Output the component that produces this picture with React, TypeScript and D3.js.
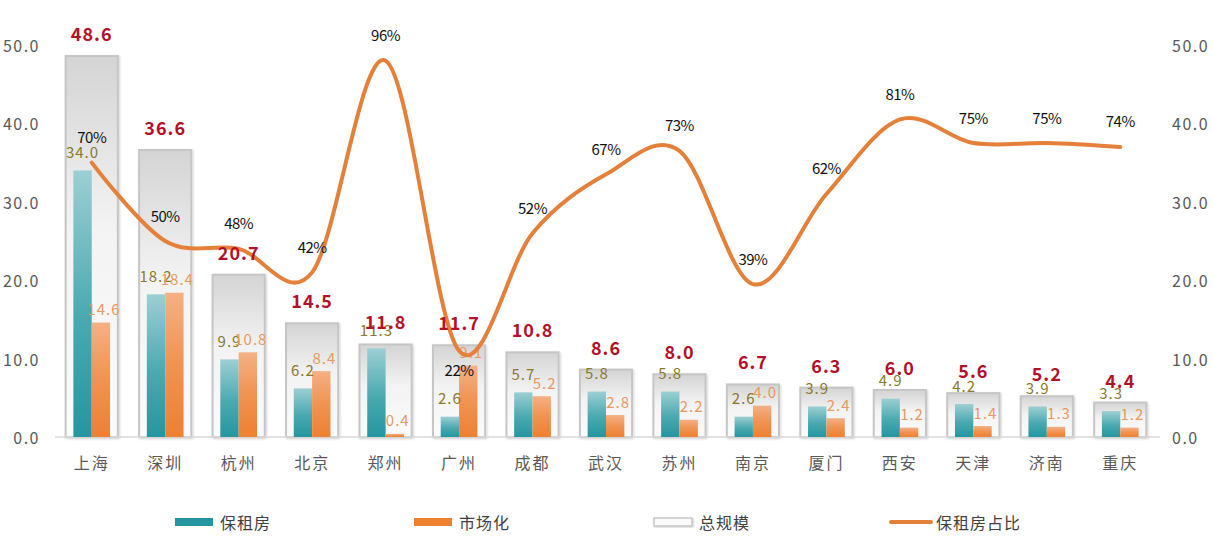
import * as d3 from 'd3';

const cities = ['上海', '深圳', '杭州', '北京', '郑州', '广州', '成都', '武汉', '苏州', '南京', '厦门', '西安', '天津', '济南', '重庆'];
const totalScale = [48.6, 36.6, 20.7, 14.5, 11.8, 11.7, 10.8, 8.6, 8.0, 6.7, 6.3, 6.0, 5.6, 5.2, 4.4];
const baozu = [34.0, 18.2, 9.9, 6.2, 11.3, 2.6, 5.7, 5.8, 5.8, 2.6, 3.9, 4.9, 4.2, 3.9, 3.3];
const market = [14.6, 18.4, 10.8, 8.4, 0.4, 9.1, 5.2, 2.8, 2.2, 4.0, 2.4, 1.2, 1.4, 1.3, 1.2];
const baozuShare = [70, 50, 48, 42, 96, 22, 52, 67, 73, 39, 62, 81, 75, 75, 74];
const yTicks = [0, 10, 20, 30, 40, 50];
const shareLabelBelow = ['广州'];

const WIDTH = 1213;
const HEIGHT = 551;
const FONT = '"Noto Sans CJK SC", "Noto Sans", sans-serif';

const TEAL = '#2596a0';
const ORANGE = '#ee8032';
const LINE = '#e5803a';

export default function App() {
  const x = d3.scaleBand<string>().domain(cities).range([55, 1157]);
  const y = d3.scaleLinear().domain([0, 50]).range([437, 45]);
  const yPct = d3.scaleLinear().domain([0, 100]).range([437, 45]);
  const bw = x.bandwidth();
  const boxW = bw * 0.71;
  const barW = bw * 0.25;
  const fmt = d3.format('.1f');
  const cx = (c: string) => (x(c) as number) + bw / 2;

  const linePath = d3
    .line<number>()
    .x((_, i) => cx(cities[i]))
    .y((d) => yPct(d))
    .curve(d3.curveCardinal.tension(0))(baozuShare);

  const legend = [
    { name: '保租房', kind: 'teal', x: 175 },
    { name: '市场化', kind: 'orange', x: 414 },
    { name: '总规模', kind: 'box', x: 654 },
    { name: '保租房占比', kind: 'line', x: 891 },
  ];

  return (
    <div style={{ position: 'absolute', left: 0, top: 0 }}>
      <svg width={WIDTH} height={HEIGHT} style={{ display: 'block', fontFamily: FONT }}>
        <defs>
          <linearGradient id="boxGrad" x1="0" y1="0" x2="0" y2="1">
            <stop offset="0%" stopColor="#d4d4d4" />
            <stop offset="45%" stopColor="#f3f3f3" />
            <stop offset="100%" stopColor="#fbfbfb" />
          </linearGradient>
          <linearGradient id="tealGrad" x1="0" y1="0" x2="0" y2="1">
            <stop offset="0%" stopColor="#9ccfd3" />
            <stop offset="55%" stopColor="#4aa9b0" />
            <stop offset="100%" stopColor={TEAL} />
          </linearGradient>
          <linearGradient id="orangeGrad" x1="0" y1="0" x2="0" y2="1">
            <stop offset="0%" stopColor="#f4b085" />
            <stop offset="50%" stopColor="#f09352" />
            <stop offset="100%" stopColor={ORANGE} />
          </linearGradient>
          <filter id="shadow" x="-10%" y="-10%" width="130%" height="130%">
            <feDropShadow dx="1" dy="1" stdDeviation="1.2" floodColor="#000" floodOpacity="0.18" />
          </filter>
        </defs>

        {/* axes labels */}
        {yTicks.map((t) => (
          <g key={t}>
            <text x={40} y={y(t)} textAnchor="end" dominantBaseline="central" fontSize={16} fill="#595959" letterSpacing={1.5}>
              {fmt(t)}
            </text>
            <text x={1172} y={y(t)} textAnchor="start" dominantBaseline="central" fontSize={16} fill="#595959" letterSpacing={1.5}>
              {fmt(t)}
            </text>
          </g>
        ))}

        {/* total boxes */}
        {cities.map((c, i) => (
          <rect
            key={`box-${c}`}
            x={cx(c) - boxW / 2}
            y={y(totalScale[i])}
            width={boxW}
            height={y(0) - y(totalScale[i])}
            fill="url(#boxGrad)"
            stroke="#c6c6c6"
            strokeWidth={2}
            filter="url(#shadow)"
          />
        ))}

        {/* baseline */}
        <line x1={55} x2={1160} y1={y(0)} y2={y(0)} stroke="#d9d9d9" strokeWidth={1.5} />

        {/* series bars */}
        {cities.map((c, i) => (
          <g key={`bars-${c}`}>
            <rect x={cx(c) - barW} y={y(baozu[i])} width={barW} height={y(0) - y(baozu[i])} fill="url(#tealGrad)" />
            <rect x={cx(c)} y={y(market[i])} width={barW} height={y(0) - y(market[i])} fill="url(#orangeGrad)" />
          </g>
        ))}

        {/* bar value labels */}
        {cities.map((c, i) => (
          <g key={`lbl-${c}`} fontSize={15} letterSpacing={1}>
            <text x={cx(c) - barW / 2} y={y(baozu[i]) - 19} textAnchor="middle" dominantBaseline="central" fill="#8a7a2a">
              {fmt(baozu[i])}
            </text>
            <text x={cx(c) + barW / 2 + 3} y={y(market[i]) - 14} textAnchor="middle" dominantBaseline="central" fill="#e9995f">
              {fmt(market[i])}
            </text>
          </g>
        ))}

        {/* share line */}
        <path d={linePath ?? ''} fill="none" stroke={LINE} strokeWidth={4} strokeLinecap="round" />

        {/* total labels */}
        {cities.map((c, i) => (
          <text
            key={`tot-${c}`}
            x={cx(c)}
            y={y(totalScale[i]) - 23}
            textAnchor="middle"
            dominantBaseline="central"
            fontSize={18}
            fontWeight="bold"
            fill="#b3112a"
            letterSpacing={1}
          >
            {fmt(totalScale[i])}
          </text>
        ))}

        {/* share labels */}
        {cities.map((c, i) => (
          <text
            key={`pct-${c}`}
            x={cx(c)}
            y={yPct(baozuShare[i]) + (shareLabelBelow.includes(c) ? 19 : -26)}
            textAnchor="middle"
            dominantBaseline="central"
            fontSize={15}
            fill="#111"
            letterSpacing={-0.5}
          >
            {`${baozuShare[i]}%`}
          </text>
        ))}

        {/* category labels */}
        {cities.map((c) => (
          <text key={`cat-${c}`} x={cx(c)} y={462} textAnchor="middle" dominantBaseline="central" fontSize={16} fill="#595959" letterSpacing={2}>
            {c}
          </text>
        ))}

        {/* legend */}
        {legend.map((l) => (
          <g key={l.name}>
            {l.kind === 'teal' && <rect x={l.x} y={518} width={38} height={8} fill={TEAL} />}
            {l.kind === 'orange' && <rect x={l.x} y={518} width={38} height={8} fill={ORANGE} />}
            {l.kind === 'box' && (
              <rect x={l.x} y={518} width={38} height={8} fill="#fafafa" stroke="#c6c6c6" strokeWidth={1.5} filter="url(#shadow)" />
            )}
            {l.kind === 'line' && <line x1={l.x} x2={l.x + 40} y1={522} y2={522} stroke={LINE} strokeWidth={4} strokeLinecap="round" />}
            <text x={l.x + 45} y={522} dominantBaseline="central" fontSize={16} fill="#404040" letterSpacing={1}>
              {l.name}
            </text>
          </g>
        ))}
      </svg>
    </div>
  );
}
